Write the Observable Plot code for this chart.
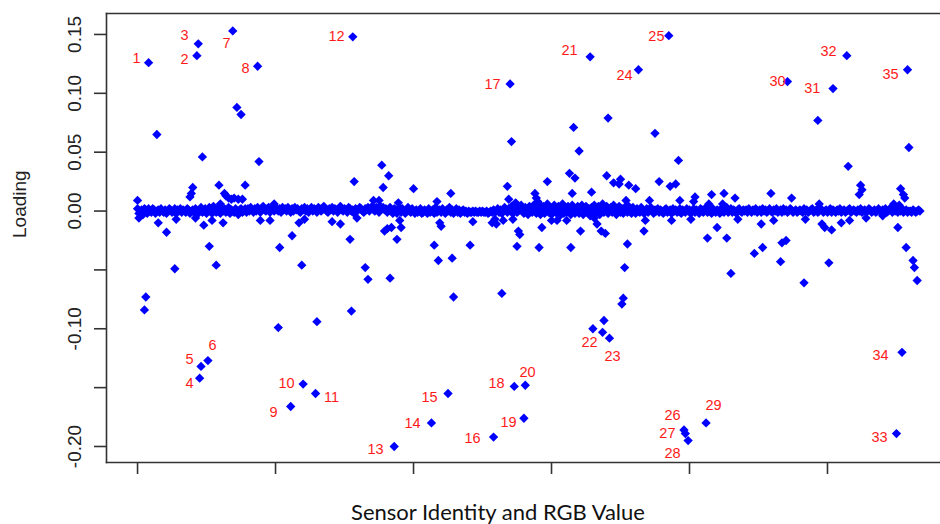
<!DOCTYPE html>
<html><head><meta charset="utf-8">
<script src="https://cdn.jsdelivr.net/npm/d3@7"></script>
<script src="https://cdn.jsdelivr.net/npm/@observablehq/plot@0.6"></script>
<style>
body{margin:0;background:#fff;}
#wrap{position:relative;width:940px;height:524px;overflow:hidden;background:#fff;}
#xlabel{position:absolute;left:498px;top:499px;transform:translateX(-50%);font-family:Lato,"Open Sans",sans-serif;font-size:22px;line-height:26px;white-space:nowrap;color:#111;}
</style></head><body>
<div id="wrap"><div id="chart"></div><div id="xlabel"></div></div>
<script>
// ---- data ----
const xTitle = "Sensor Identity and RGB Value";
const yTitle = "Loading";
const xTicks = [0, 100, 200, 300, 400, 500];
const yTicks = [-0.20, -0.15, -0.10, -0.05, 0.00, 0.05, 0.10, 0.15];
const yTickLabels = ["-0.20", "", "-0.10", "", "0.00", "0.05", "0.10", "0.15"];

// loadings of the dense band near zero, one per sensor/RGB index 0..567
const bandLoading = [
.002,-.002,-.001,.001,-.003,.002,.001,-.002,.002,.000,-.001,.002,.001,-.002,.000,.001,-.001,.002,.000,-.001,
.001,-.002,.000,.002,.001,-.001,.000,.002,-.002,.001,.000,.002,-.001,.001,.000,-.001,.002,.001,-.002,.000,
.001,-.001,.002,.000,-.002,.001,.003,-.001,.000,.002,-.002,.001,.003,.000,-.002,.001,.002,-.001,.000,.003,
-.002,.001,.000,.002,-.001,.000,.003,-.002,.001,.000,-.001,.002,.000,-.003,.001,.002,-.001,.000,.002,-.001,
.002,.000,.003,.001,-.001,.002,.000,.003,.001,-.001,.002,.004,.001,.000,.002,.003,-.001,.001,.002,.000,
.003,.001,.000,.002,-.001,.003,.001,.002,.000,.003,.001,-.001,.002,.000,.003,.001,.002,.000,-.001,.002,
.001,.003,.000,.002,-.001,.001,.003,.000,.002,.001,-.001,.003,.002,.000,.001,.004,.002,.000,-.001,.002,
.001,.003,.000,.002,.001,-.001,.002,.004,.001,.000,.002,.001,-.001,.003,.002,.000,.001,-.002,.002,.000,
.001,.003,.002,.000,-.001,.002,.001,.003,.000,.002,.004,.001,.000,.003,.002,-.001,.004,.002,.003,.001,
.002,-.001,.001,.003,.000,-.002,.002,.001,-.002,.000,.003,-.001,.002,.000,-.002,.001,.003,.000,-.001,.002,
.000,-.002,.001,-.001,.000,.002,-.002,-.001,.001,.000,-.002,.002,-.001,.000,.001,-.002,.003,-.001,.000,.001,
-.001,.002,.000,-.002,.001,.000,.003,-.001,.001,-.002,.000,.002,-.001,.001,-.002,.000,.001,-.001,.000,-.002,
.000,-.001,-.001,.000,-.001,.000,-.001,-.001,.000,-.001,.000,-.001,-.001,.000,-.002,-.001,.000,-.001,.001,-.001,
.000,.002,-.001,.001,-.002,.000,.003,.001,-.001,.002,.000,.004,-.002,.001,.003,-.001,.000,.002,.005,.001,
-.002,.003,.001,-.003,.004,.002,-.001,.005,.000,-.002,.003,.006,-.003,.001,.004,-.002,.002,.006,-.001,.003,
-.003,.002,.005,-.001,.000,.004,-.004,.002,.006,-.002,.003,-.001,.004,.000,-.003,.005,.002,-.002,.001,.004,
-.002,.003,.005,-.003,.001,.004,-.001,.002,-.004,.003,.000,.005,-.002,.002,.004,-.003,.001,.006,-.001,.002,
.004,-.002,.001,.003,-.001,.005,.000,-.003,.002,.004,-.001,.002,-.002,.003,.001,-.001,.004,.000,-.002,.003,
.001,-.002,.002,.000,-.001,.003,.001,-.002,.000,.002,-.001,.001,.003,.000,-.002,.001,.000,.002,-.001,.001,
.000,-.002,.001,.002,-.001,.000,.001,-.002,.002,.000,.001,-.001,.000,.002,-.002,.001,.000,-.001,.002,.000,
.001,-.002,.000,.002,-.001,.001,.000,-.002,.002,.001,-.001,.000,.003,-.001,.001,.000,-.002,.002,.000,-.001,
.001,.000,-.002,.002,.000,-.001,.001,.003,-.001,.000,.002,-.001,.001,.000,-.002,.001,.002,.000,-.001,.001,
.000,.001,-.001,.002,.000,-.001,.001,.000,.002,-.001,.000,.001,-.001,.002,.000,.001,-.001,.000,.002,.000,
-.001,.001,.000,.002,-.001,.000,.001,-.001,.002,.000,.001,-.001,.000,.002,.001,-.001,.000,.001,-.001,.000,
.001,.000,-.001,.002,.000,.001,-.001,.000,.001,.002,-.001,.000,.001,-.001,.000,.002,.001,-.001,.000,.001,
-.001,.000,.002,-.001,.001,.000,-.001,.001,.000,.002,-.001,.000,.001,-.001,.000,.001,.002,-.001,.000,.001,
.000,-.001,.001,.000,.002,-.001,.000,.001,-.001,.000,.002,.001,-.001,.000,.001,-.001,.000,.002,.000,-.001,
.001,.000,.002,-.001,.000,.001,.003,-.001,.002,.000,.001,-.001,.004,.000,.002,-.001,.000,.001,-.001,.000,
.000,-.001,.001,.000,-.001,.000,.001,.000
];

// points away from the band: index and loading
const outlierIndex = [
0,1,5,6,8,14,15,21,27,28,38,39,40,42,43,44,45,46,47,48,51,52,54,55,57,59,60,62,63,64,66,68,69,70,72,73,75,76,78,
87,88,89,96,99,102,103,111,112,117,119,120,121,129,130,141,147,154,155,156,157,159,165,167,171,175,177,178,179,
181,182,183,184,186,188,189,190,191,200,213,215,217,218,219,220,225,227,228,229,241,243,
257,258,259,260,264,265,268,269,270,271,272,273,274,275,276,277,280,281,
288,289,290,291,293,297,300,304,311,313,314,315,316,317,320,321,328,329,330,331,333,336,337,338,339,340,341,342,345,349,
350,351,352,353,354,355,356,361,363,367,368,371,375,378,385,386,387,390,392,393,396,397,399,401,403,404,
412,413,414,416,420,424,425,427,430,433,435,447,452,453,459,461,466,467,470,471,474,
483,484,493,494,496,498,501,503,504,510,514,515,516,523,524,525,528,540,548,550,551,552,553,554,555,556,557,558,559,562,563,565
];
const outlierLoading = [
.009,-.006,-.084,-.073,.126,.065,-.010,-.018,-.049,-.007,.012,.015,.020,-.006,.132,.142,-.142,-.132,.046,-.012,-.127,-.030,-.008,.004,-.046,.022,.006,-.010,.015,.013,.011,.010,.153,.011,.088,.010,.082,.010,.022,
.123,.042,-.008,-.008,.006,-.099,-.031,-.166,-.021,-.010,-.046,-.147,-.007,-.155,-.094,-.009,-.011,-.024,-.085,.148,.025,-.006,-.048,-.058,.009,.009,.039,.020,-.017,
-.015,.030,-.057,-.014,-.200,-.024,.007,-.008,-.014,.019,-.180,-.029,.008,-.042,-.010,-.013,-.155,.015,-.040,-.073,-.029,-.009,
-.010,-.192,-.007,-.011,-.070,-.008,.021,.010,.108,.059,-.007,-.149,.007,-.030,-.017,-.020,-.176,-.148,
.015,.011,.008,-.031,-.014,.025,-.008,-.008,-.008,.032,-.031,.015,.071,.028,.051,-.017,.131,.016,-.100,-.006,-.011,-.017,-.103,-.093,-.019,.030,.079,-.108,.024,.023,
.027,-.079,-.074,-.048,.009,-.028,.022,.019,.120,-.017,-.008,.009,.066,.025,.149,.021,-.008,.023,.043,.009,-.186,-.189,-.195,-.007,.008,.012,
-.180,-.023,.006,.014,-.014,.006,.015,-.023,-.053,.011,-.007,-.036,-.011,-.031,.015,-.008,-.043,-.027,-.025,.110,.011,
-.061,-.007,.077,.006,-.011,-.014,-.044,-.016,.104,-.010,.132,.038,-.008,.014,.022,.018,-.006,-.004,.006,-.189,-.014,.005,.019,-.120,.014,.011,-.031,.120,.054,-.042,-.048,-.059
];

// red annotation numbers and where they sit (index, loading)
const labelText = ["1","2","3","4","5","6","7","8","9","10","11","12","13","14","15","16","17","18","19","20",
  "21","22","23","24","25","26","27","28","29","30","31","32","33","34","35"];
const labelIndex = [-0.7,34.1,34.1,37.7,37.7,54.3,64.5,78.3,98.6,108,140.6,144.2,172.5,199.3,211.6,242.8,257.2,260.1,268.8,282.6,
  313,327.5,344.2,352.9,376,387.7,384,387.7,417.4,463.8,489,500.7,537.7,538.4,545.7];
const labelLoading = [0.130,0.129,0.1495,-0.146,-0.1257,-0.1138,0.1427,0.1215,-0.1708,-0.146,-0.158,0.1487,-0.2022,-0.180,-0.158,-0.1929,0.108,-0.146,-0.1793,-0.1368,
  0.1368,-0.1113,-0.1232,0.1155,0.1487,-0.1733,-0.1886,-0.2056,-0.1648,0.110,0.1045,0.136,-0.192,-0.1223,0.1164];

// ---- tables ----
const points = bandLoading.map((v, i) => ({index: i, loading: v}))
  .concat(outlierIndex.map((x, k) => ({index: x, loading: outlierLoading[k]})));
const labels = labelText.map((t, k) => ({text: t, index: labelIndex[k], loading: labelLoading[k]}));
const tickLabelOf = new Map(yTicks.map((t, k) => [t, yTickLabels[k]]));

const axisColor = "#333";
const chart = Plot.plot({
  width: 940, height: 480,
  marginLeft: 106, marginRight: 0, marginTop: 13, marginBottom: 18,
  x: {domain: [-22.5, 581.9]},
  y: {domain: [-0.2136, 0.1678]},
  style: {background: "white", color: "#222", fontFamily: "'Liberation Sans', Arial, sans-serif"},
  marks: [
    Plot.frame({anchor: "left", stroke: axisColor, strokeWidth: 1.6}),
    Plot.frame({anchor: "top", stroke: axisColor, strokeWidth: 1.6}),
    Plot.frame({anchor: "bottom", stroke: axisColor, strokeWidth: 1.6}),
    Plot.axisX(xTicks, {tickSize: 12, tickFormat: () => "", label: null, stroke: axisColor, strokeWidth: 1.6}),
    Plot.axisY(yTicks, {tickSize: 12, tickRotate: -90, tickPadding: 14, fontSize: 19,
      tickFormat: d => tickLabelOf.get(d), label: null, stroke: axisColor, strokeWidth: 1.6}),
    Plot.text([yTitle], {frameAnchor: "left", rotate: -90, dx: -94, lineAnchor: "top", fontSize: 19, fill: "#222"}),
    Plot.dot(points, {x: "index", y: "loading", symbol: "diamond2", r: 4.2, fill: "#0000ff"}),
    Plot.text(labels, {x: "index", y: "loading", text: "text", fill: "#ff1a1a", fontSize: 14.5})
  ]
});
document.getElementById("chart").appendChild(chart);
document.getElementById("xlabel").textContent = xTitle;
</script>
</body></html>
